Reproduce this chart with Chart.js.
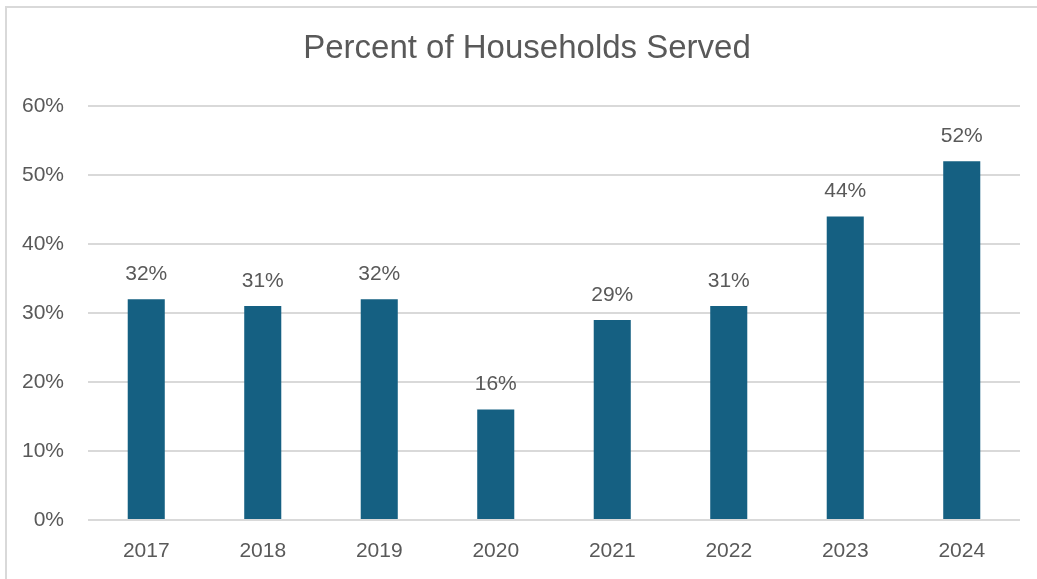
<!DOCTYPE html>
<html>
<head>
<meta charset="utf-8">
<script src="https://cdn.jsdelivr.net/npm/chart.js@4"></script>
<style>
  html, body { margin: 0; padding: 0; background: #fff; overflow: hidden; }
  #wrap { position: relative; width: 1037px; height: 579px; }
  #frame {
    position: absolute; left: 5px; top: 6px;
    width: 1100px; height: 700px;
    border: 2px solid #d9d9d9; box-sizing: border-box;
  }
  canvas { position: absolute; left: 0; top: 0; }
</style>
</head>
<body>
<div id="wrap">
  <div id="frame"></div>
  <canvas id="chart" width="1037" height="579"></canvas>
</div>
<script>
// yearly share of households served
const years = ["2017", "2018", "2019", "2020", "2021", "2022", "2023", "2024"];
const served = [0.32, 0.31, 0.32, 0.16, 0.29, 0.31, 0.44, 0.52];
const yTicks = [0, 0.1, 0.2, 0.3, 0.4, 0.5, 0.6];
const chartTitle = "Percent of Households Served";

const textGray = "#595959";
const fontFamily = "'Liberation Sans', Arial, sans-serif";

const pct = v => Math.round(v * 100) + "%";

// value labels over each bar + the heading (centred over the frame, not the canvas)
const barLabels = {
  id: "barLabels",
  afterDatasetsDraw(chart) {
    const ctx = chart.ctx;
    const meta = chart.getDatasetMeta(0);
    ctx.save();
    ctx.fillStyle = textGray;
    ctx.textAlign = "center";
    ctx.textBaseline = "middle";
    ctx.font = "21px " + fontFamily;
    meta.data.forEach((bar, i) => {
      ctx.fillText(pct(served[i]), bar.x, bar.y - 25);
    });
    ctx.font = "33px " + fontFamily;
    ctx.fillText(chartTitle, 527, 49);
    ctx.restore();
  }
};

new Chart(document.getElementById("chart"), {
  type: "bar",
  data: {
    labels: years,
    datasets: [{
      data: served,
      backgroundColor: "#156082",
      borderWidth: 0,
      categoryPercentage: 1,
      barPercentage: 0.318
    }]
  },
  options: {
    responsive: false,
    animation: false,
    layout: { padding: { top: 106, left: 0, right: 17, bottom: 0 } },
    plugins: {
      legend: { display: false },
      tooltip: { enabled: false },
      title: { display: false }
    },
    scales: {
      x: {
        afterFit(scale) { scale.height = 59; },
        grid: { display: false, drawTicks: false },
        border: { display: false },
        ticks: {
          color: textGray,
          font: { family: fontFamily, size: 21 },
          padding: 19,
          maxRotation: 0
        }
      },
      y: {
        min: 0,
        max: 0.6,
        afterFit(scale) { scale.width = 88; },
        afterBuildTicks(scale) { scale.ticks = yTicks.map(v => ({ value: v })); },
        grid: { color: "#d9d9d9", lineWidth: 2, drawTicks: false },
        border: { display: false },
        ticks: {
          color: textGray,
          font: { family: fontFamily, size: 21 },
          padding: 24,
          callback: v => pct(v)
        }
      }
    }
  },
  plugins: [barLabels]
});
</script>
</body>
</html>
